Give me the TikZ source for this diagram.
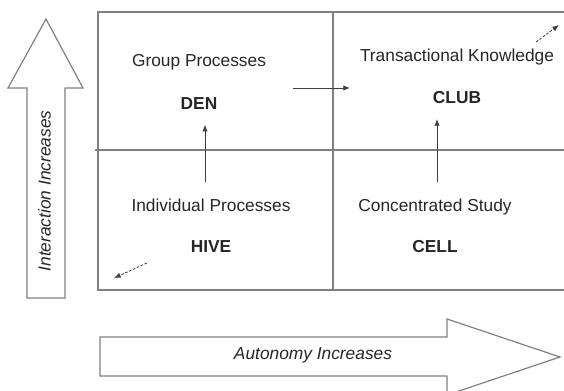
\documentclass[tikz,border=0pt]{standalone}
\usepackage{fontspec}
\setmainfont{Liberation Sans}
\usetikzlibrary{%
    positioning,
    arrows.meta
}
\tikzset{
    every node/.style = {
        inner sep=0pt, outer sep=0pt,
        text=black!85,
        font=\fontsize{13}{15}\selectfont,
        text height=9.5pt, text depth=2.5pt,
    },
    gridline/.style = {draw=black!50, line width=0.9pt},
    bigarrow/.style = {draw=black!50, line width=0.9pt, line join=miter},
    flow/.style = {draw=black!75, line width=0.6pt, -{Latex[length=5pt,width=4pt]}},
    dashflow/.style = {flow, dash pattern=on 2pt off 1.2pt},
    keyword/.style = {font=\fontsize{13}{15}\selectfont\bfseries},
}

\begin{document}
\begin{tikzpicture}[x=0.75pt, y=-0.75pt]
    \useasboundingbox (0,0) rectangle (564,391);

    % the grid
    \draw[gridline] (570,12) -- (98,12) -- (98,290) -- (570,290);
    \draw[gridline] (95,150) -- (570,150);
    \draw[gridline] (333,12) -- (333,290);

    % quadrant texts
    \node (group) at (199,62) {Group Processes};
    \node[keyword, below=20pt of group] (den) {DEN};
    \node (trans) at (457,57) {Transactional Knowledge};
    \node[keyword, below=19.5pt of trans] (club) {CLUB};
    \node (indiv) at (211,207) {Individual Processes};
    \node[keyword, below=19pt of indiv] (hive) {HIVE};
    \node (conc) at (435,207) {Concentrated Study};
    \node[keyword, below=19pt of conc] (cell) {CELL};

    % connectors
    \draw[flow, shorten <=12.75pt, shorten >=9pt]
        ([xshift=-4.5pt]indiv.north) -- ([xshift=-4.5pt]indiv.north |- den.south);
    \draw[flow, shorten <=12.75pt, shorten >=9pt]
        ([xshift=1.5pt]conc.north) -- ([xshift=1.5pt]conc.north |- club.south);
    \coordinate (right-a) at (293,88);
    \coordinate (right-b) at (350,88);
    \draw[flow] (right-a) -- (right-b);
    \coordinate (out-a) at (536,42);
    \coordinate (out-b) at (559,25);
    \draw[dashflow] (out-a) -- (out-b);
    \coordinate (in-a) at (147,263);
    \coordinate (in-b) at (114,278);
    \draw[dashflow] (in-a) -- (in-b);

    % big arrows
    \draw[bigarrow] (27,298) -- (27,88) -- (8,88) -- (46,19)
        -- (83,88) -- (65,88) -- (65,298) -- cycle;
    \node[rotate=90, font=\fontsize{13}{15}\selectfont\itshape] (interaction)
        at (46,191) {Interaction Increases};
    \draw[bigarrow] (100,337) -- (447,337) -- (447,319) -- (560,357)
        -- (447,395) -- (447,376) -- (100,376) -- cycle;
    \node[font=\fontsize{13}{15}\selectfont\itshape] (autonomy)
        at (313,355) {Autonomy Increases};
\end{tikzpicture}
\end{document}
